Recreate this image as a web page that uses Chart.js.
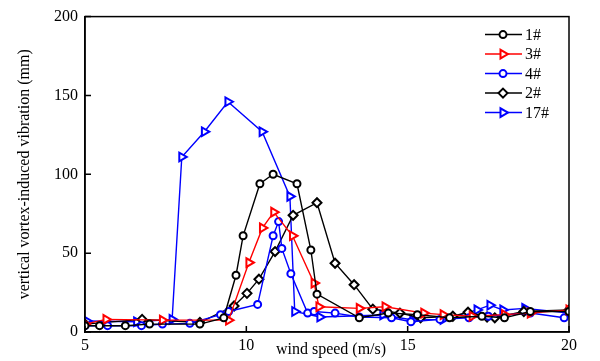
<!DOCTYPE html>
<html lang="en">
<head>
<meta charset="UTF-8">
<title>Vertical vortex-induced vibration vs wind speed</title>
<style>
    html, body { margin: 0; padding: 0; background: #fff; }
    #wrap { width: 600px; height: 361px; }
</style>
<script src="https://cdn.jsdelivr.net/npm/chart.js"></script>
</head>
<body>
<div id="wrap"><canvas id="vivChart"></canvas></div>
<script>
    // wind speed (m/s) and amplitude (mm) for each cable
    const speed1 = [5.0, 5.45, 6.25, 7.0, 8.56, 9.3, 9.68, 9.9, 10.42, 10.83, 11.57, 12.0, 12.19, 13.5, 14.4, 15.3, 16.3, 17.3, 18.0, 18.8, 20.0];
    const amp1   = [4, 4, 4, 5, 5, 9, 36, 61, 94, 100, 94, 52, 24, 9, 12, 11, 9, 10, 9, 13, 13];

    const speed3 = [5.0, 5.65, 7.4, 9.45, 10.08, 10.5, 10.85, 11.43, 12.1, 12.25, 13.5, 14.3, 15.5, 16.1, 17.0, 18.0, 18.8, 20.0];
    const amp3   = [5, 8, 7.5, 7.5, 44, 66, 76, 61, 31, 16, 15, 16, 12, 11, 10, 11, 12, 14];

    const speed4 = [5.0, 5.7, 6.75, 7.4, 8.25, 9.2, 9.45, 10.35, 10.83, 11.0, 11.1, 11.38, 11.9, 12.1, 12.75, 13.5, 14.5, 15.1, 16.0, 16.9, 17.5, 18.8, 19.85];
    const amp4   = [4, 4, 4, 5, 5.5, 11, 13, 17.5, 61, 70, 53, 37, 12, 13, 12, 9.5, 9, 6.5, 8, 9, 10, 12, 9];

    const speed2 = [5.0, 6.77, 8.56, 9.62, 10.02, 10.39, 10.89, 11.45, 12.19, 12.75, 13.34, 13.92, 14.76, 15.4, 16.4, 16.87, 17.46, 17.7, 18.6, 20.0];
    const amp2   = [5, 8, 6, 16.5, 24.5, 33.5, 51, 74, 82, 43.6, 30, 14.5, 12, 9, 10, 12.5, 9.5, 9, 13, 14];

    const speed17 = [5.05, 6.6, 7.7, 8.0, 8.7, 9.43, 10.49, 11.35, 11.5, 12.28, 14.23, 15.16, 16.1, 17.15, 17.55, 17.95, 18.63, 20.0];
    const amp17   = [7, 6.5, 8, 111, 127, 146, 127, 86, 13, 9.5, 10.8, 7.6, 8, 14, 17, 14, 15, 12];

    const xTicks = [5, 10, 15, 20];
    const yTicks = [0, 50, 100, 150, 200];

    const serif = "'Liberation Serif', 'Times New Roman', serif";

    const toPoints = (xs, ys) => xs.map((v, i) => ({ x: v, y: ys[i] }));

    const series = [
        { label: '1#',  xs: speed1,  ys: amp1,  color: '#000000', marker: 'circle' },
        { label: '3#',  xs: speed3,  ys: amp3,  color: '#ff0000', marker: 'triangle' },
        { label: '4#',  xs: speed4,  ys: amp4,  color: '#0000ff', marker: 'circle' },
        { label: '2#',  xs: speed2,  ys: amp2,  color: '#000000', marker: 'diamond' },
        { label: '17#', xs: speed17, ys: amp17, color: '#0000ff', marker: 'triangle' }
    ];

    const styleFor = (m) => {
        if (m === 'triangle') return { pointStyle: 'triangle', pointRotation: 90, pointRadius: 5 };
        if (m === 'diamond') return { pointStyle: 'rectRot', pointRotation: 0, pointRadius: 4.5 };
        return { pointStyle: 'circle', pointRotation: 0, pointRadius: 3.5 };
    };

    // small marker painter for the legend
    function drawMarker(ctx, m, x, y) {
        ctx.beginPath();
        if (m === 'triangle') {
            const r = 5;
            ctx.moveTo(x + r, y);
            ctx.lineTo(x - r / 2, y - r * 0.866);
            ctx.lineTo(x - r / 2, y + r * 0.866);
            ctx.closePath();
        } else if (m === 'diamond') {
            const r = 4.5;
            ctx.moveTo(x, y - r);
            ctx.lineTo(x + r, y);
            ctx.lineTo(x, y + r);
            ctx.lineTo(x - r, y);
            ctx.closePath();
        } else {
            ctx.arc(x, y, 3.5, 0, Math.PI * 2);
        }
        ctx.fill();
        ctx.stroke();
    }

    const framePlugin = {
        id: 'frame',
        afterDraw(chart) {
            const { ctx, chartArea: a, scales: { x, y } } = chart;
            ctx.save();
            ctx.strokeStyle = '#000';
            ctx.lineWidth = 1.5;
            ctx.strokeRect(a.left, a.top, a.right - a.left, a.bottom - a.top);

            // inward tick marks
            ctx.beginPath();
            xTicks.forEach(v => {
                const px = x.getPixelForValue(v);
                ctx.moveTo(px, a.bottom);
                ctx.lineTo(px, a.bottom - 6);
            });
            yTicks.forEach(v => {
                const py = y.getPixelForValue(v);
                ctx.moveTo(a.left, py);
                ctx.lineTo(a.left + 6, py);
            });
            ctx.stroke();

            // x axis title, sits beside the tick labels
            ctx.fillStyle = '#000';
            ctx.font = '16px ' + serif;
            ctx.textAlign = 'center';
            ctx.textBaseline = 'middle';
            ctx.fillText('wind speed (m/s)', 331, 350);

            // legend inside the plot, top right
            ctx.textAlign = 'left';
            series.forEach((s, i) => {
                const ly = a.top + 18 + i * 19.5;
                ctx.strokeStyle = s.color;
                ctx.lineWidth = 1.5;
                ctx.beginPath();
                ctx.moveTo(a.right - 84, ly);
                ctx.lineTo(a.right - 47, ly);
                ctx.stroke();
                ctx.fillStyle = '#fff';
                ctx.lineWidth = 2;
                drawMarker(ctx, s.marker, a.right - 66, ly);
                ctx.fillStyle = '#000';
                ctx.fillText(s.label, a.right - 44, ly + 1);
            });
            ctx.restore();
        }
    };

    new Chart(document.getElementById('vivChart'), {
        type: 'line',
        data: {
            datasets: series.map(s => Object.assign({
                label: s.label,
                data: toPoints(s.xs, s.ys),
                borderColor: s.color,
                borderWidth: 1.4,
                pointBorderColor: s.color,
                pointBackgroundColor: '#fff',
                pointBorderWidth: 2,
                tension: 0,
                fill: false
            }, styleFor(s.marker)))
        },
        options: {
            responsive: true,
            maintainAspectRatio: false,
            animation: false,
            layout: { padding: { left: 0, right: 31, top: 16, bottom: 0 } },
            plugins: {
                legend: { display: false },
                tooltip: { enabled: false }
            },
            scales: {
                x: {
                    type: 'linear',
                    min: 5,
                    max: 20,
                    afterFit: (s) => { s.height = 29; },
                    afterBuildTicks: (s) => { s.ticks = xTicks.map(v => ({ value: v })); },
                    grid: { display: false, drawTicks: false },
                    border: { display: true, color: '#000', width: 1.5 },
                    ticks: { color: '#000', padding: 4, font: { family: serif, size: 16 } }
                },
                y: {
                    min: 0,
                    max: 200,
                    afterFit: (s) => { s.width = 85; },
                    afterBuildTicks: (s) => { s.ticks = yTicks.map(v => ({ value: v })); },
                    grid: { display: false, drawTicks: false },
                    border: { display: true, color: '#000', width: 1.5 },
                    ticks: { color: '#000', padding: 7, font: { family: serif, size: 16 } },
                    title: {
                        display: true,
                        text: 'vertical vortex-induced vibration (mm)',
                        color: '#000',
                        font: { family: serif, size: 16 },
                        padding: { top: 15, bottom: 0 }
                    }
                }
            }
        },
        plugins: [framePlugin]
    });
</script>
</body>
</html>
